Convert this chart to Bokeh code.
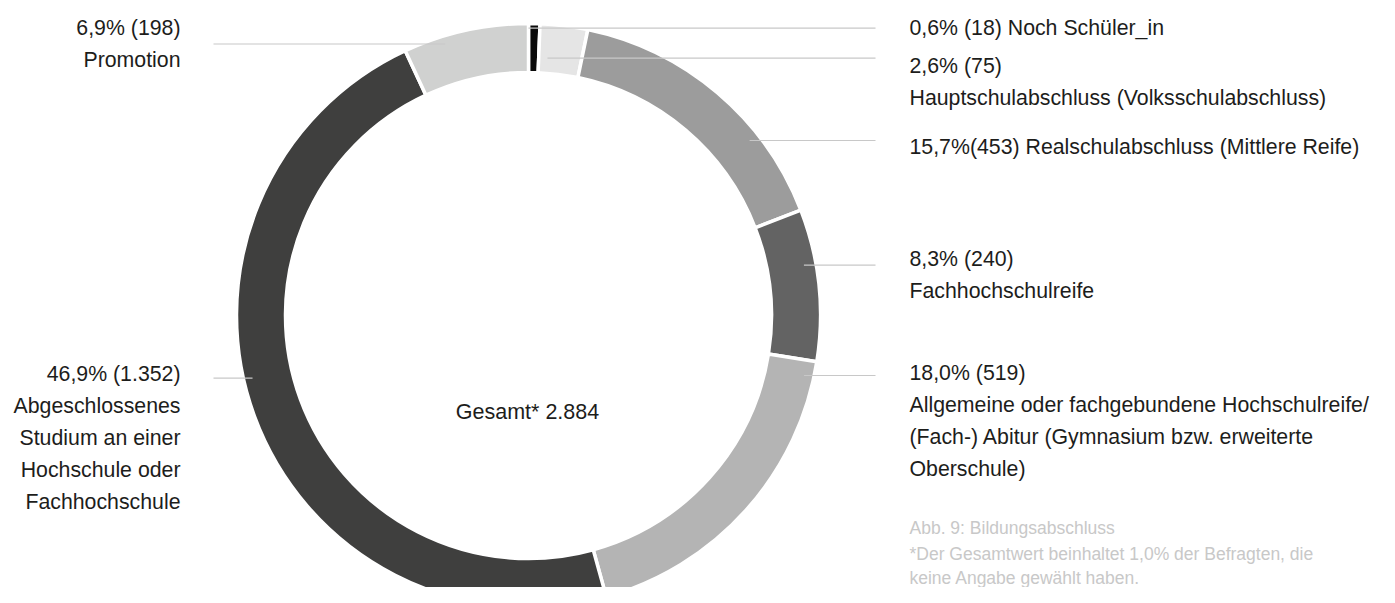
import math
from bokeh.plotting import figure
from bokeh.models import Range1d
from bokeh.core.properties import value
from bokeh.embed import file_html
from bokeh.resources import INLINE

# ---------------- data ----------------
categories = ["Noch Schüler_in", "Hauptschulabschluss", "Realschulabschluss",
              "Fachhochschulreife", "Abitur", "Studium", "Promotion"]
counts = [18, 75, 453, 240, 519, 1352, 198]
colors = ["#0a0a0a", "#e5e5e5", "#9c9c9c", "#636363", "#b4b4b4", "#3f3f3e", "#d0d1d0"]
label_lines = [
    ["0,6% (18) Noch Schüler_in"],
    ["2,6% (75)", "Hauptschulabschluss (Volksschulabschluss)"],
    ["15,7%(453) Realschulabschluss (Mittlere Reife)"],
    ["8,3% (240)", "Fachhochschulreife"],
    ["18,0% (519)", "Allgemeine oder fachgebundene Hochschulreife/",
     "(Fach-) Abitur (Gymnasium bzw. erweiterte", "Oberschule)"],
    ["46,9% (1.352)", "Abgeschlossenes", "Studium an einer", "Hochschule oder", "Fachhochschule"],
    ["6,9% (198)", "Promotion"],
]
center_label = "Gesamt* 2.884"
note_lines = ["Abb. 9: Bildungsabschluss",
              "*Der Gesamtwert beinhaltet 1,0% der Befragten, die",
              "keine Angabe gewählt haben."]

# ---------------- layout (screen pixels) ----------------
W, H = 1379, 587
CX, CY = 528, 315
R_OUT, R_IN = 292, 243
FONT = "Liberation Sans"
label_side = ["right", "right", "right", "right", "right", "left", "left"]
label_top_y = [27, 65, 146, 258, 372, 373, 27]     # y of first text line
leader_y = [27.7, 57.7, 140, 264.6, 375, 377.7, 43.5]
leader_r = [287, 258, 282, 280, 282, 283, 284]
LINE_STEP = 32
RIGHT_X, LEFT_X = 909, 180
RIGHT_LEAD_END, LEFT_LEAD_END = 875, 213

p = figure(width=W, height=H, output_backend="svg", toolbar_location=None,
           x_range=Range1d(0, W), y_range=Range1d(-H, 0),
           min_border=0, outline_line_color=None)
p.axis.visible = False
p.grid.visible = False
p.background_fill_color = "white"
p.border_fill_color = "white"

total = sum(counts)
starts, ends = [], []
acc = 0
for c in counts:
    starts.append(math.pi / 2 - 2 * math.pi * acc / total)
    acc += c
    ends.append(math.pi / 2 - 2 * math.pi * acc / total)

p.annular_wedge(x=[CX] * len(counts), y=[-CY] * len(counts),
                inner_radius=R_IN, outer_radius=R_OUT,
                start_angle=starts, end_angle=ends, direction="clock",
                fill_color=colors, line_color="white", line_width=3.5)

# leader lines
x0s, x1s, ys = [], [], []
for side, ly, r in zip(label_side, leader_y, leader_r):
    dy = ly - CY
    dx = math.sqrt(max(r * r - dy * dy, 0))
    if side == "right":
        x0s.append(CX + dx); x1s.append(RIGHT_LEAD_END)
    else:
        x0s.append(CX - dx); x1s.append(LEFT_LEAD_END)
    ys.append(-ly)
p.segment(x0=x0s, y0=ys, x1=x1s, y1=ys, line_color="#c8c8c8", line_width=1.2)

# labels
for side, lines, ty in zip(label_side, label_lines, label_top_y):
    xs = [RIGHT_X if side == "right" else LEFT_X] * len(lines)
    yv = [-(ty + i * LINE_STEP) for i in range(len(lines))]
    p.text(x=xs, y=yv, text=lines, text_font=value(FONT), text_font_size=value("21.3px"),
           text_color="#1d1d1b", text_baseline="middle",
           text_align="left" if side == "right" else "right")

p.text(x=[527], y=[-411], text=[center_label], text_font=value(FONT),
       text_font_size=value("21.5px"), text_color="#1d1d1b",
       text_baseline="middle", text_align="center")

p.text(x=[RIGHT_X] * 3, y=[-527, -553, -577], text=note_lines, text_font=value(FONT),
       text_font_size=value("17.5px"), text_color="#c8c8c8",
       text_baseline="middle", text_align="left")

open("out.html", "w").write(file_html(p, INLINE))
